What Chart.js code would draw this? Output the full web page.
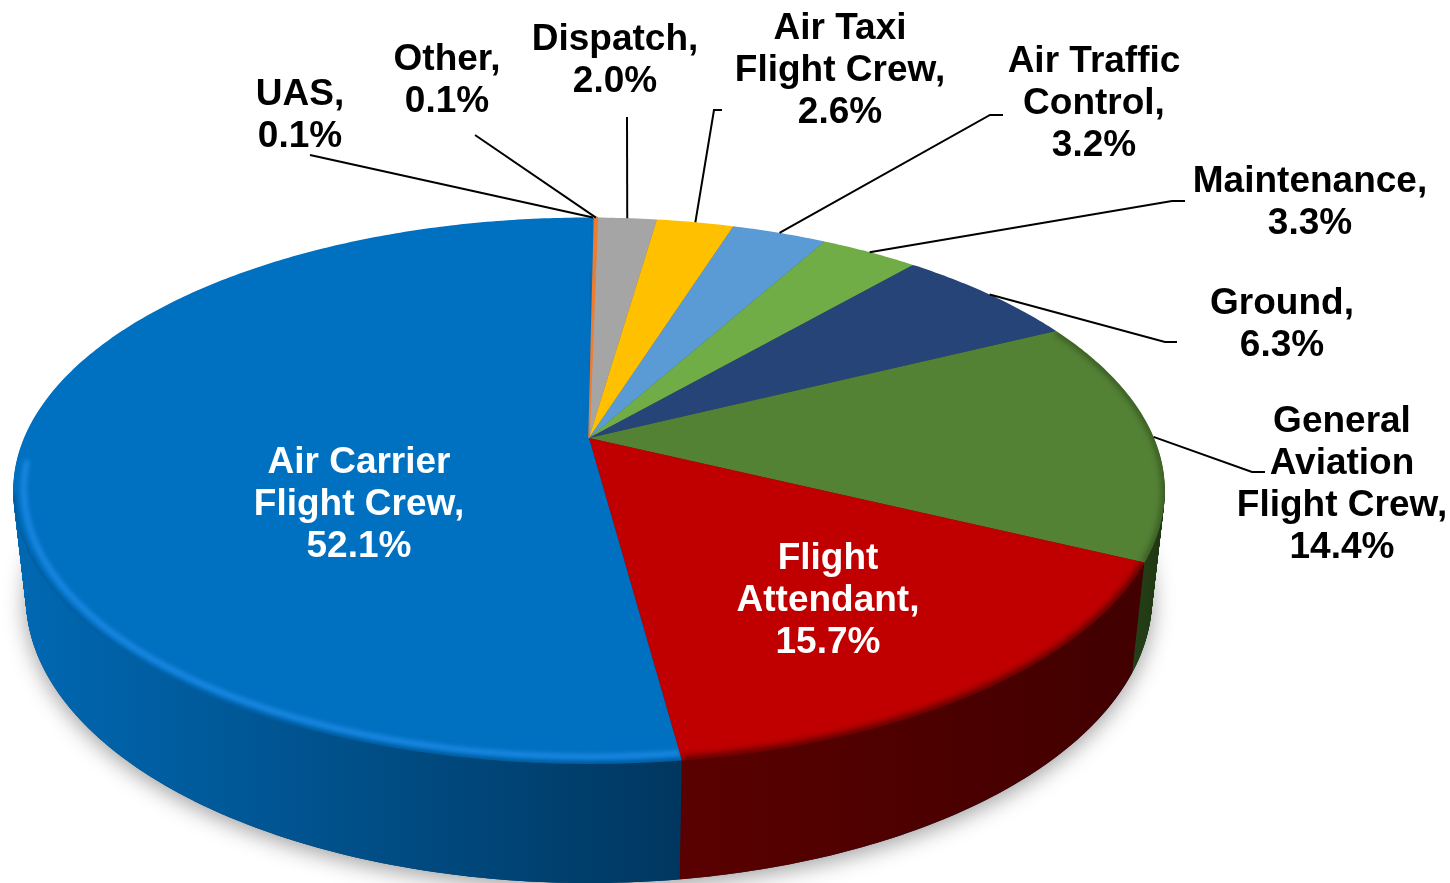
<!DOCTYPE html>
<html>
<head>
<meta charset="utf-8">
<title>Reports by group</title>
<script src="https://cdn.jsdelivr.net/npm/chart.js@4"></script>
<style>
  html, body { margin: 0; padding: 0; background: #fff; }
  canvas { display: block; }
</style>
</head>
<body>
<canvas id="pieChart" width="1450" height="883"></canvas>
<script>
// clockwise from 12 o'clock
const categories = [
  ['UAS'], ['Other'], ['Dispatch'], ['Air Taxi', 'Flight Crew'], ['Air Traffic', 'Control'],
  ['Maintenance'], ['Ground'], ['General', 'Aviation', 'Flight Crew'], ['Flight', 'Attendant'],
  ['Air Carrier', 'Flight Crew']
];
const shares = [0.1, 0.1, 2.0, 2.6, 3.2, 3.3, 6.3, 14.4, 15.7, 52.1];
const faceColors = ['#0070C0', '#ED7D31', '#A5A5A5', '#FFC000', '#5B9BD5', '#70AD47', '#264478', '#548235', '#C00000', '#0070C0'];
const wallColors = [
  ['#0070C0', '#0070C0'], ['#9E4E1A', '#9E4E1A'], ['#666666', '#666666'], ['#A07800', '#A07800'],
  ['#37608A', '#37608A'], ['#426B2A', '#426B2A'], ['#16294A', '#16294A'], ['#25401A', '#1F3812'],
  ['#5A0000', '#420000'], ['#0068B2', '#003760']
];

// label centres and leader elbows
const labelPlaces = [
  { x: 300, y: 95, color: '#000', elbow: [[310, 155]] },
  { x: 447, y: 60, color: '#000', elbow: [[475, 135]] },
  { x: 615, y: 40, color: '#000', elbow: [[627, 117]] },
  { x: 840, y: 29, color: '#000', elbow: [[714, 110], [722, 110]] },
  { x: 1094, y: 62, color: '#000', elbow: [[990, 115], [1003, 115]] },
  { x: 1310, y: 182, color: '#000', elbow: [[1172, 201], [1185, 201]] },
  { x: 1282, y: 304, color: '#000', elbow: [[1165, 342], [1177, 342]] },
  { x: 1342, y: 422, color: '#000', elbow: [[1252, 472], [1265, 472]] },
  { x: 828, y: 559, color: '#fff', elbow: null },
  { x: 359, y: 463, color: '#fff', elbow: null }
];

// perspective of the tilted disc
const APEX_X = 589, APEX_Y = 438, SPREAD_X = 565, SPREAD_Y = 263, TILT = 0.193;
const BASE_SX = 0.978, BASE_SY = 1.046, BASE_DY = 84;
const LINE_STEP = 42;

function project(angle, r, depth) {
  const u = r * Math.cos(angle);
  const v = r * Math.sin(angle);
  const d = 1 - TILT * v;
  let x = APEX_X + SPREAD_X * u / d;
  let y = APEX_Y + SPREAD_Y * v / d;
  if (depth) {
    x = APEX_X + (1 + (BASE_SX - 1) * depth) * (x - APEX_X);
    y = y + ((BASE_SY - 1) * y + BASE_DY) * depth;
  }
  return [x, y];
}

function slicePath(ctx, arc, depth) {
  const steps = Math.max(2, Math.ceil((arc.endAngle - arc.startAngle) * 90));
  ctx.beginPath();
  let p = project(0, 0, depth);
  ctx.moveTo(p[0], p[1]);
  for (let i = 0; i <= steps; i++) {
    p = project(arc.startAngle + (arc.endAngle - arc.startAngle) * i / steps, 1, depth);
    ctx.lineTo(p[0], p[1]);
  }
  ctx.closePath();
}

function rimPath(ctx, from, to, r) {
  const steps = Math.ceil(Math.abs(to - from) * 90);
  ctx.beginPath();
  for (let i = 0; i <= steps; i++) {
    const p = project(from + (to - from) * i / steps, r, 0);
    if (i === 0) ctx.moveTo(p[0], p[1]); else ctx.lineTo(p[0], p[1]);
  }
}

function drawRim(ctx, arcs, i, from, to, r, color, width, blur) {
  ctx.save();
  slicePath(ctx, arcs[i], 0);
  ctx.clip();
  ctx.filter = `blur(${blur}px)`;
  ctx.strokeStyle = color;
  ctx.lineWidth = width;
  rimPath(ctx, from, to, r);
  ctx.stroke();
  ctx.restore();
}

const tiltedPie = {
  id: 'tiltedPie',
  beforeDatasetDraw(chart) {
    const ctx = chart.ctx;
    const arcs = chart.getDatasetMeta(0).data;

    // soft shadow below the base
    ctx.save();
    ctx.shadowColor = 'rgba(0,0,0,0.38)';
    ctx.shadowBlur = 22;
    ctx.shadowOffsetY = 5;
    ctx.fillStyle = '#003760';
    ctx.beginPath();
    for (let a = 0; a < 361; a += 1) {
      const p = project(a * Math.PI / 180, 1, 1);
      if (a === 0) ctx.moveTo(p[0], p[1]); else ctx.lineTo(p[0], p[1]);
    }
    ctx.fill();
    ctx.restore();

    // the wall: stacked copies of each slice, from the base upward
    const grads = arcs.map((arc, i) => {
      const wallFrom = i === 9 ? 20 : (i === 8 ? 680 : 1130);
      const wallTo = i === 9 ? 680 : (i === 8 ? 1130 : 1160);
      const g = ctx.createLinearGradient(wallFrom, 0, wallTo, 0);
      g.addColorStop(0, wallColors[i][0]);
      g.addColorStop(1, wallColors[i][1]);
      return g;
    });
    for (let layer = 130; layer >= 1; layer--) {
      arcs.forEach((arc, i) => {
        ctx.fillStyle = grads[i];
        slicePath(ctx, arc, layer / 130);
        ctx.fill();
      });
    }

    // top face
    arcs.forEach((arc) => {
      ctx.fillStyle = arc.options.backgroundColor;
      slicePath(ctx, arc, 0);
      ctx.fill();
    });
    // the 0.1% sliver needs a little body to show
    ctx.strokeStyle = arcs[1].options.backgroundColor;
    ctx.lineWidth = 1.5;
    slicePath(ctx, arcs[1], 0);
    ctx.stroke();

    // edge shading
    const a9 = arcs[9], a8 = arcs[8], a7 = arcs[7];
    drawRim(ctx, arcs, 9, a9.startAngle, a9.startAngle + 1.62, 0.982, '#1F8CE8', 5, 2.5);
    drawRim(ctx, arcs, 9, a9.startAngle, a9.startAngle + 1.5, 1.0, 'rgba(0,50,90,0.45)', 4, 2);
    drawRim(ctx, arcs, 8, a8.startAngle, a8.endAngle, 1.0, 'rgba(50,0,0,0.7)', 8, 3);
    drawRim(ctx, arcs, 7, a7.startAngle, a7.endAngle, 1.0, 'rgba(20,40,10,0.5)', 6, 3);

    // leaders and labels
    ctx.save();
    ctx.strokeStyle = '#000';
    ctx.lineWidth = 2;
    ctx.lineJoin = 'miter';
    labelPlaces.forEach((place, i) => {
      if (!place.elbow) return;
      const mid = (arcs[i].startAngle + arcs[i].endAngle) / 2;
      const start = project(mid, 1, 0);
      ctx.beginPath();
      ctx.moveTo(start[0], start[1]);
      place.elbow.forEach((pt) => ctx.lineTo(pt[0], pt[1]));
      ctx.stroke();
    });
    ctx.font = 'bold 37px "Liberation Sans", Arial, sans-serif';
    ctx.textAlign = 'center';
    ctx.textBaseline = 'middle';
    labelPlaces.forEach((place, i) => {
      const lines = categories[i].slice();
      lines[lines.length - 1] += ',';
      lines.push(shares[i].toFixed(1) + '%');
      ctx.fillStyle = place.color;
      lines.forEach((line, n) => ctx.fillText(line, place.x, place.y + n * LINE_STEP));
    });
    ctx.restore();
    return false;
  }
};

new Chart(document.getElementById('pieChart'), {
  type: 'pie',
  data: {
    labels: categories,
    datasets: [{ data: shares, backgroundColor: faceColors, borderWidth: 0 }]
  },
  options: {
    responsive: false,
    animation: false,
    rotation: 0.3,
    plugins: { legend: { display: false }, tooltip: { enabled: false } }
  },
  plugins: [tiltedPie]
});
</script>
</body>
</html>
